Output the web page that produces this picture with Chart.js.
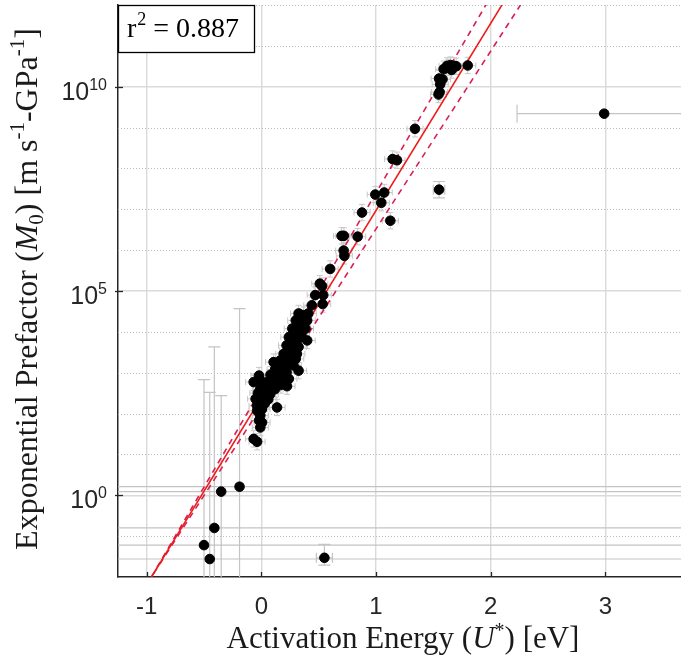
<!DOCTYPE html>
<html>
<head>
<meta charset="utf-8">
<title>Exponential prefactor vs activation energy</title>
<script src="https://cdn.jsdelivr.net/npm/chart.js@4.4.1/dist/chart.umd.min.js"></script>
<style>
  html, body { margin: 0; padding: 0; background: #fff; }
  canvas { display: block; }
</style>
</head>
<body>
<canvas id="chart" width="681" height="658"></canvas>
<script>
const xTicks = [-1, 0, 1, 2, 3];
const majorDecades = [0, 5, 10];
const minorDecades = [-1, 1, 2, 3, 4, 6, 7, 8, 9, 11, 12];
const rSquared = '0.887';

// main population: activation energy [eV] and log10 of the prefactor
const energy = [
  1.80, 1.59, 1.62, 1.65, 1.68, 1.66, 1.63, 1.70, 1.55, 1.58, 1.56, 1.555, 1.545,
  1.34, 1.145, 1.183,
  0.994, 1.072, 1.046, 0.878, 1.125,
  0.70, 0.72, 0.84, 0.718, 0.724,
  0.60, 0.51, 0.53, 0.47, 0.54, 0.535, 0.44,
  0.325, 0.37, 0.41, 0.30, 0.34, 0.40,
  0.27, 0.325, 0.385, 0.40, 0.24, 0.30,
  0.22, 0.28, 0.325, 0.195, 0.25, 0.31,
  0.165, 0.30, 0.107, 0.22, 0.24,
  0.165, 0.22, 0.28, 0.325, 0.165, 0.22,
  0.137, 0.195, 0.24, -0.067, -0.009, 0.05, -0.02,
  0.107, 0.224, -0.009, 0.05, 0.078, 0.006,
  -0.05, -0.009, 0.035, 0.137, -0.037, 0.006,
  -0.009, -0.037, -0.02, 0.006, -0.009, -0.067, -0.037,
  0.02, 0.09, 0.12, 0.03, 0.08, 0.12, 0.26, 0.35, 0.20,
  0.00, 0.03, -0.03, 0.06, 0.10, 0.15, 0.18, 0.26, 0.27, 0.29,
  0.33, 0.36, 0.31, 0.35, 0.29, 0.23, 0.12, 0.17, 0.14, 0.04
];
const logPrefactor = [
  10.52, 10.43, 10.51, 10.53, 10.51, 10.41, 10.47, 10.50, 10.20, 10.18, 10.06, 9.87, 9.81,
  8.97, 8.23, 8.20,
  7.36, 7.41, 7.16, 6.92, 6.72,
  6.35, 6.35, 6.33, 5.99, 5.86,
  5.54, 5.18, 5.12, 4.90, 4.90, 4.68, 4.65,
  4.45, 4.41, 4.45, 4.28, 4.24, 4.28,
  4.08, 4.04, 4.08, 3.79, 3.87, 3.87,
  3.67, 3.67, 3.63, 3.46, 3.42, 3.46,
  3.30, 3.34, 3.26, 3.34, 3.38,
  3.18, 3.22, 3.18, 3.05, 3.01, 3.01,
  2.85, 2.85, 2.85, 2.77, 2.81, 2.77, 2.93,
  2.69, 2.67, 2.60, 2.56, 2.48, 2.44,
  2.36, 2.32, 2.36, 2.15, 2.19, 2.11,
  1.95, 2.07, 1.83, 1.78, 1.66, 1.38, 1.31,
  2.70, 2.75, 2.60, 2.50, 2.95, 3.08, 3.55, 3.95, 3.10,
  2.20, 2.25, 2.50, 2.35, 2.85, 2.95, 3.20, 3.25, 3.50, 3.75,
  3.85, 4.15, 4.15, 4.35, 3.95, 3.55, 2.78, 2.70, 3.00, 2.62
];
const energyErr = 0.07;
const logErr = 0.2;

// points with their own error bars (bounds in eV and log10 units)
const outlierEnergy = [-0.50, -0.45, -0.41, -0.35, -0.19, 0.55, 1.55, 2.99];
const outlierLog = [-1.22, -1.56, -0.80, 0.09, 0.21, -1.53, 7.48, 9.34];
const outlierEnergyLow = [-9, -9, -9, -9, -9, 0.48, 1.50, 2.23];
const outlierEnergyHigh = [9, 9, 9, 9, 9, 0.62, 1.60, 3.75];
const outlierLogLow = [-9, -9, -9, -9, -9, -1.71, 7.28, 9.34];
const outlierLogHigh = [2.83, 2.52, 3.63, 2.44, 4.57, -1.20, 7.68, 9.34];

// fit: log10(M0) = intercept + slope * U, band slopes pivot at U = -0.96
const fitSlope = 4.58;
const fitIntercept = 2.39;
const bandSlopes = [4.80, 4.35];
const bandPivot = -0.96;

const xMin = -1.25;
const xMax = 3.66;

const serif = '"Liberation Serif", "DejaVu Serif", serif';
const sans = '"Liberation Sans", Arial, sans-serif';

function fitLine(slope, pivot) {
  const base = fitIntercept + fitSlope * pivot;
  return [xMin, xMax].map(u => ({ x: u, y: Math.pow(10, base + slope * (u - pivot)) }));
}

function drawParts(ctx, parts, x, y) {
  let total = 0;
  parts.forEach(p => {
    ctx.font = p.font;
    p.w = ctx.measureText(p.text).width;
    total += p.w;
  });
  let cx = x - total / 2;
  parts.forEach(p => {
    ctx.font = p.font;
    ctx.fillText(p.text, cx, y + (p.dy || 0));
    cx += p.w;
  });
}

const errorBarPlugin = {
  id: 'errorBars',
  beforeDatasetsDraw(chart) {
    const { ctx, chartArea: a, scales: { x, y } } = chart;
    ctx.save();
    ctx.beginPath();
    ctx.rect(a.left, a.top, a.right - a.left, a.bottom - a.top);
    ctx.clip();

    // dotted minor grid
    ctx.strokeStyle = '#bdbdbd';
    ctx.lineWidth = 1;
    ctx.setLineDash([1, 2]);
    minorDecades.forEach(d => {
      const py = Math.round(y.getPixelForValue(Math.pow(10, d))) + 0.5;
      ctx.beginPath();
      ctx.moveTo(a.left, py);
      ctx.lineTo(a.right, py);
      ctx.stroke();
    });
    ctx.setLineDash([]);

    const bar = (x0, x1, y0, y1, cap, vertical) => {
      ctx.beginPath();
      ctx.moveTo(x0, y0);
      ctx.lineTo(x1, y1);
      if (vertical) {
        ctx.moveTo(x0 - cap, y0); ctx.lineTo(x0 + cap, y0);
        ctx.moveTo(x1 - cap, y1); ctx.lineTo(x1 + cap, y1);
      } else {
        ctx.moveTo(x0, y0 - cap); ctx.lineTo(x0, y0 + cap);
        ctx.moveTo(x1, y1 - cap); ctx.lineTo(x1, y1 + cap);
      }
      ctx.stroke();
    };

    ctx.strokeStyle = '#c8c8c8';
    ctx.lineWidth = 1;
    energy.forEach((u, i) => {
      const px = x.getPixelForValue(u);
      const py = y.getPixelForValue(Math.pow(10, logPrefactor[i]));
      bar(x.getPixelForValue(u - energyErr), x.getPixelForValue(u + energyErr), py, py, 3, false);
      bar(px, px, y.getPixelForValue(Math.pow(10, logPrefactor[i] - logErr)),
        y.getPixelForValue(Math.pow(10, logPrefactor[i] + logErr)), 3, true);
    });

    ctx.strokeStyle = '#c4c4c4';
    ctx.lineWidth = 1.2;
    outlierEnergy.forEach((u, i) => {
      const px = x.getPixelForValue(u);
      const py = y.getPixelForValue(Math.pow(10, outlierLog[i]));
      const hCap = outlierEnergyHigh[i] - outlierEnergyLow[i] > 1 ? 9 : 5;
      bar(x.getPixelForValue(outlierEnergyLow[i]), x.getPixelForValue(outlierEnergyHigh[i]), py, py, hCap, false);
      if (outlierLogHigh[i] !== outlierLogLow[i]) {
        bar(px, px, y.getPixelForValue(Math.pow(10, outlierLogLow[i])),
          y.getPixelForValue(Math.pow(10, outlierLogHigh[i])), 6, true);
      }
    });
    ctx.restore();
  }
};

const decorPlugin = {
  id: 'decor',
  afterDraw(chart) {
    const { ctx, chartArea: a, scales: { x, y } } = chart;
    ctx.save();
    ctx.strokeStyle = '#262626';
    ctx.lineWidth = 1.3;
    xTicks.forEach(v => {
      const px = Math.round(x.getPixelForValue(v)) + 0.5;
      ctx.beginPath();
      ctx.moveTo(px, a.bottom);
      ctx.lineTo(px, a.bottom - 5);
      ctx.stroke();
    });

    // y tick labels as 10 with a superscript exponent
    ctx.fillStyle = '#262626';
    ctx.textBaseline = 'alphabetic';
    ctx.textAlign = 'left';
    majorDecades.forEach(d => {
      const py = y.getPixelForValue(Math.pow(10, d));
      ctx.beginPath();
      ctx.moveTo(a.left - 3, Math.round(py) + 0.5);
      ctx.lineTo(a.left + 5, Math.round(py) + 0.5);
      ctx.stroke();
      ctx.font = '16px ' + sans;
      const supW = ctx.measureText(String(d)).width;
      ctx.font = '25px ' + sans;
      const baseW = ctx.measureText('10').width;
      const right = a.left - 11;
      ctx.fillText('10', right - supW - baseW, py + 13);
      ctx.font = '16px ' + sans;
      ctx.fillText(String(d), right - supW, py + 3);
    });

    // axis titles
    ctx.fillStyle = '#1a1a1a';
    drawParts(ctx, [
      { text: 'Activation Energy (', font: '31px ' + serif },
      { text: 'U', font: 'italic 31px ' + serif },
      { text: '*', font: '20px ' + serif, dy: -11 },
      { text: ') [eV]', font: '31px ' + serif }
    ], 403, 648);

    ctx.save();
    ctx.translate(37, 289);
    ctx.rotate(-Math.PI / 2);
    const reg = '32px ' + serif;
    const small = '21px ' + serif;
    drawParts(ctx, [
      { text: 'Exponential Prefactor (', font: reg },
      { text: 'M', font: 'italic 32px ' + serif },
      { text: '0', font: small, dy: 6 },
      { text: ') [m s', font: reg },
      { text: '-1', font: small, dy: -13 },
      { text: '-GPa', font: reg },
      { text: '-1', font: small, dy: -13 },
      { text: ']', font: reg }
    ], 0, 0);
    ctx.restore();

    // r^2 box
    ctx.fillStyle = '#fff';
    ctx.fillRect(a.left, a.top, 136, 47);
    ctx.strokeStyle = '#000';
    ctx.lineWidth = 1.3;
    ctx.strokeRect(a.left + 0.5, a.top + 0.5, 136, 47);
    ctx.fillStyle = '#000';
    ctx.textAlign = 'left';
    ctx.font = '28px ' + serif;
    let tx = a.left + 9;
    ctx.fillText('r', tx, a.top + 32);
    tx += ctx.measureText('r').width;
    ctx.font = '18px ' + serif;
    ctx.fillText('2', tx + 1, a.top + 20);
    tx += ctx.measureText('2').width + 1;
    ctx.font = '28px ' + serif;
    ctx.fillText(' = ' + rSquared, tx, a.top + 32);
    ctx.restore();
  }
};

const points = energy.map((u, i) => ({ x: u, y: Math.pow(10, logPrefactor[i]) }));
const outliers = outlierEnergy.map((u, i) => ({ x: u, y: Math.pow(10, outlierLog[i]) }));

const ctx = document.getElementById('chart').getContext('2d');
const chart = new Chart(ctx, {
  type: 'scatter',
  data: {
    datasets: [
      { label: 'samples', data: points, backgroundColor: '#000', borderColor: '#000',
        pointRadius: 4.8, pointHoverRadius: 4.8, order: 0 },
      { label: 'outliers', data: outliers, backgroundColor: '#000', borderColor: '#000',
        pointRadius: 4.8, pointHoverRadius: 4.8, order: 0 },
      { type: 'line', label: 'fit', data: fitLine(fitSlope, bandPivot), borderColor: '#ee1b1b',
        borderWidth: 1.6, pointRadius: 0, order: 1 },
      { type: 'line', label: 'upper bound', data: fitLine(bandSlopes[0], bandPivot), borderColor: '#d91f52',
        borderWidth: 1.6, borderDash: [6, 5], pointRadius: 0, order: 1 },
      { type: 'line', label: 'lower bound', data: fitLine(bandSlopes[1], bandPivot), borderColor: '#d91f52',
        borderWidth: 1.6, borderDash: [6, 5], pointRadius: 0, order: 1 }
    ]
  },
  options: {
    responsive: false,
    animation: false,
    layout: { autoPadding: false, padding: { left: 0, right: 0, top: 5, bottom: 0 } },
    plugins: { legend: { display: false }, tooltip: { enabled: false } },
    scales: {
      x: {
        type: 'linear',
        min: xMin,
        max: xMax,
        afterBuildTicks: s => { s.ticks = xTicks.map(v => ({ value: v })); },
        afterFit: s => { s.height = 81; },
        grid: { color: '#dadada', lineWidth: 1.4, drawTicks: false },
        border: { color: '#262626', width: 1.5 },
        ticks: { font: { family: sans, size: 24 }, color: '#262626', padding: 16, maxRotation: 0,
          callback: v => String(v) }
      },
      y: {
        type: 'logarithmic',
        min: 1e-2,
        max: 1e12,
        afterBuildTicks: s => { s.ticks = majorDecades.map(d => ({ value: Math.pow(10, d) })); },
        afterFit: s => { s.width = 118; },
        grid: { color: '#dadada', lineWidth: 1.4, drawTicks: false },
        border: { color: '#262626', width: 1.5 },
        ticks: { display: false }
      }
    }
  },
  plugins: [errorBarPlugin, decorPlugin]
});
</script>
</body>
</html>
